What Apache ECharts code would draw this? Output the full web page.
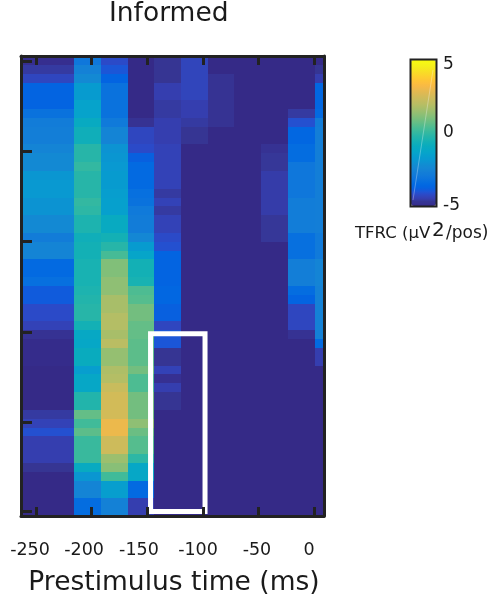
<!DOCTYPE html>
<html><head><meta charset="utf-8">
<style>html,body{margin:0;padding:0;background:#fff}#c{width:492px;height:599px}</style>
<script src="https://cdn.jsdelivr.net/npm/echarts@6/dist/echarts.min.js"></script>
</head><body><div id="c"></div>
<script>
const titleText = 'Informed';
const xName = 'Prestimulus time (ms)';
const binStarts = [-263.5,-239.5,-215.5,-191.5,-167.5,-143.5,-119.5,-95.5,-71.5,-47.5,-23.5,0.5];
const binWidth = 24;
const xTicks = [-250,-200,-150,-100,-50,0];
const xLabelSpots = [-255.4,-206.8,-157.4,-104.3,-51.3,-4.5];
const xLabels = ['-250','-200','-150','-100','-50','0'];
const yTicks = [0.565,10.74,20.9,31.2,41.4,51.5];
const windowX = [-147,-98];
const windowRows = [31.4,51.5];
const col0 = [-4.9,-4.6,-4.3,-3.7,-3.7,-3.7,-3.2,-2.8,-2.7,-2.7,-2.5,-2.3,-2.3,-1.9,-1.8,-1.8,-2.0,-2.0,-2.3,-2.3,-2.8,-2.5,-2.5,-3.5,-3.5,-3.3,-3.9,-3.9,-4.2,-4.2,-4.4,-4.8,-4.95,-4.95,-4.95,-5,-5,-5,-5,-5,-4.6,-4.4,-4.1,-4.5,-4.5,-4.5,-4.7,-5,-5,-5,-5,-5];
const col1 = [-4.9,-4.6,-4.3,-3.7,-3.7,-3.7,-3.2,-2.8,-2.7,-2.7,-2.5,-2.3,-2.3,-1.9,-1.8,-1.8,-2.0,-2.0,-2.3,-2.3,-2.8,-2.5,-2.5,-3.5,-3.5,-3.3,-3.9,-3.9,-4.2,-4.2,-4.4,-4.8,-4.95,-4.95,-4.95,-5,-5,-5,-5,-5,-4.6,-4.4,-4.1,-4.5,-4.5,-4.5,-4.7,-5,-5,-5,-5,-5];
const col2 = [-3.0,-2.6,-2.3,-1.7,-1.7,-1.4,-1.4,-1.0,-0.7,-0.7,-0.2,-0.2,0,-0.2,-0.2,-0.2,0,-0.1,-0.4,-0.4,-0.7,-0.6,-0.6,-0.5,-0.5,-0.5,-0.4,-0.3,-0.2,-0.2,-0.6,-1.1,-1.2,-0.9,-0.9,-1.6,-1.2,-1.2,-0.3,-0.3,0.7,0.2,0.6,0.1,0.1,0.1,-1.0,-1.9,-2.5,-2.5,-3.4,-3.4];
const col3 = [-4.2,-4,-3.7,-3.2,-3.2,-3.2,-3.2,-2.9,-2.5,-2.5,-2,-1.9,-1.8,-1.7,-1.7,-1.6,-1.5,-1.5,-1.0,-1.0,-0.6,-0.2,0.3,1.1,1.1,1.3,1.3,1.7,1.7,1.9,1.9,1.7,2.0,1.4,1.4,1.8,1.9,2.3,2.5,2.5,2.5,3.0,3.0,2.4,2.4,1.5,1.2,0.2,-1.6,-1.6,-2.6,-2.6];
const col4 = [-5,-5,-5,-5,-5,-5,-5,-4.8,-4.3,-4.3,-4.2,-3.8,-3.5,-3.5,-3.5,-3.3,-3.2,-2.9,-2.8,-2.8,-2.4,-1.7,-1.3,-0.6,-0.6,-0.5,0.4,0.5,0.9,0.9,0.7,0.7,0.6,0.6,0.6,0.9,0.4,0.4,0.9,0.9,0.9,1.3,0.8,0.5,0.5,-0.1,-1.2,-1.2,-3.5,-3.5,-4.5,-4.5];
const col5 = [-4.7,-4.7,-4.7,-4.5,-4.5,-4.6,-4.6,-4.5,-4.5,-4.5,-4.4,-4.4,-4.4,-4.4,-4.4,-4.6,-4.4,-4.6,-4.4,-4.4,-4.2,-4.1,-3.7,-3.7,-3.7,-3.7,-3.6,-3.6,-3.8,-3.8,-4.3,-4.0,-4.0,-4.7,-4.7,-4.4,-4.85,-4.5,-4.7,-4.7,-5,-5,-5,-5,-5,-5,-5,-5,-5,-5,-5,-5];
const col6 = [-4.35,-4.35,-4.35,-4.35,-4.35,-4.5,-4.5,-4.6,-4.7,-4.7,-5,-5,-5,-5,-5,-5,-5,-5,-5,-5,-5,-5,-5,-5,-5,-5,-5,-5,-5,-5,-5,-5,-5,-5,-5,-5,-5,-5,-5,-5,-5,-5,-5,-5,-5,-5,-5,-5,-5,-5,-5,-5];
const col7 = [-5,-5,-4.75,-4.75,-4.75,-4.75,-4.75,-4.75,-5,-5,-5,-5,-5,-5,-5,-5,-5,-5,-5,-5,-5,-5,-5,-5,-5,-5,-5,-5,-5,-5,-5,-5,-5,-5,-5,-5,-5,-5,-5,-5,-5,-5,-5,-5,-5,-5,-5,-5,-5,-5,-5,-5];
const col8 = [-5,-5,-5,-5,-5,-5,-5,-5,-5,-5,-5,-5,-5,-5,-5,-5,-5,-5,-5,-5,-5,-5,-5,-5,-5,-5,-5,-5,-5,-5,-5,-5,-5,-5,-5,-5,-5,-5,-5,-5,-5,-5,-5,-5,-5,-5,-5,-5,-5,-5,-5,-5];
const col9 = [-5,-5,-5,-5,-5,-5,-5,-5,-5,-5,-4.8,-4.65,-4.65,-4.55,-4.55,-4.55,-4.55,-4.55,-4.65,-4.65,-4.65,-5,-5,-5,-5,-5,-5,-5,-5,-5,-5,-5,-5,-5,-5,-5,-5,-5,-5,-5,-5,-5,-5,-5,-5,-5,-5,-5,-5,-5,-5,-5];
const col10 = [-5,-5,-5,-5,-5,-5,-4.6,-4.1,-3.6,-3.6,-3.4,-3.4,-3.0,-3.0,-3.0,-3.0,-2.75,-2.75,-2.75,-2.75,-3.3,-3.3,-3.3,-2.7,-2.7,-2.7,-3.4,-3.7,-4.3,-4.3,-4.3,-4.8,-5,-5,-5,-5,-5,-5,-5,-5,-5,-5,-5,-5,-5,-5,-5,-5,-5,-5,-5,-5];
const col11 = [-5,-4.7,-4.5,-3.6,-3.6,-3.6,-3.5,-2.8,-2.7,-2.7,-2.7,-2.7,-2.7,-2.7,-2.7,-2.7,-2.7,-2.7,-2.7,-2.7,-2.9,-2.9,-2.9,-2.5,-2.5,-2.5,-2.6,-2.6,-2.6,-2.6,-2.6,-2.6,-3.5,-4.5,-4.5,-5,-5,-5,-5,-5,-5,-5,-5,-5,-5,-5,-5,-5,-5,-5,-5,-5];
const columns = [col0,col1,col2,col3,col4,col5,col6,col7,col8,col9,col10,col11];
const parula = ['#352a87','#363093','#363693','#353dad','#3244ba','#2b4ac7','#2053d4','#0f5cdd','#0363e1','#0268e1','#046de0','#0871de','#0d75dc','#1079da','#127cd8','#1480d6','#1485d4','#1389d3','#108ed2','#0c93d2','#0998d1','#079ccf','#06a0cd','#06a4ca','#06a7c6','#07a9c2','#0aacbd','#0faeb9','#15b1b4','#1db3af','#25b5a9','#2eb7a4','#38b99e','#42bb98','#4dbc92','#59bd8c','#65be86','#71be80','#7cbf7b','#87bf77','#92bf73','#9cbf6e','#a6be6a','#afbe67','#b9bd63','#c0bc60','#c8bc5d','#d0bb59','#d9ba56','#e1b952','#e9b94e','#f1b94a','#f8ba44','#fcbe3e','#fec337','#fdca32','#fcd12d','#fad829','#f8df25','#f6e620','#f5ed1c','#f5f318','#f6f715','#f9fb0e'];

const data = [];
columns.forEach((c, i) => c.forEach((v, r) => data.push([binStarts[i], r, v])));

const chart = echarts.init(document.getElementById('c'), null, {renderer:'canvas'});
const font = 'DejaVu Sans';
const dark = '#222222';
const axisMin = -263.5, axisMax = 9;
const inTick = {show:true, inside:true, length:9, lineStyle:{color:dark, width:3}};
chart.setOption({
  animation:false,
  backgroundColor:'#fff',
  title:{text:titleText,left:104,top:-4,textStyle:{fontFamily:font,fontWeight:'normal',fontSize:26.5,color:'#1a1a1a'}},
  grid:{left:21,top:56,width:303,height:460,containLabel:false,outerBoundsMode:'none'},
  xAxis:[
    {type:'value',min:axisMin,max:axisMax,position:'bottom',z:5,
     splitLine:{show:false},
     axisLine:{show:true,onZero:false,lineStyle:{color:dark,width:3}},
     axisTick:{...inTick,customValues:xTicks},
     axisLabel:{show:true,customValues:xLabelSpots,margin:25,fontFamily:font,fontSize:17.5,color:'#1a1a1a',hideOverlap:false,
       showMinLabel:true,showMaxLabel:true,
       formatter:(v)=>xLabels[xLabelSpots.indexOf(v)]},
     name:xName,nameLocation:'middle',nameGap:54,
     nameTextStyle:{fontFamily:font,fontSize:26.5,color:'#1a1a1a',padding:[0,0,0,3]}},
    {type:'value',min:axisMin,max:axisMax,position:'top',z:5,
     splitLine:{show:false},
     axisLine:{show:true,onZero:false,lineStyle:{color:dark,width:3}},
     axisTick:{...inTick,customValues:xTicks},
     axisLabel:{show:false}}
  ],
  yAxis:[
    {type:'value',min:0,max:52,inverse:true,position:'left',z:5,
     splitLine:{show:false},
     axisLine:{show:true,onZero:false,lineStyle:{color:dark,width:3}},
     axisTick:{...inTick,length:11,customValues:yTicks},
     axisLabel:{show:false}},
    {type:'value',min:0,max:52,inverse:true,position:'right',z:5,
     splitLine:{show:false},
     axisLine:{show:true,onZero:false,lineStyle:{color:dark,width:3}},
     axisTick:{show:false},axisLabel:{show:false}}
  ],
  visualMap:{type:'continuous',seriesIndex:0,dimension:2,min:-5,max:5,left:411,top:60,itemWidth:25,itemHeight:146,
    calculable:false,text:null,showLabel:false,padding:0,inRange:{color:parula},textStyle:{color:'transparent',fontSize:1}},
  series:[
    {type:'custom',name:'TFRC',xAxisIndex:0,yAxisIndex:0,clip:true,z:2,
     encode:{x:0,y:1},data,
     renderItem:(p,api)=>{
       const x=api.value(0), r=api.value(1);
       const a=api.coord([x,r]), b=api.coord([x+binWidth,r+1]);
       const x0=Math.round(a[0]), y0=Math.round(a[1]), x1=Math.round(b[0]), y1=Math.round(b[1]);
       return {type:'rect',shape:{x:x0,y:y0,width:x1-x0,height:y1-y0},style:{fill:api.visual('color')}};
     }},
    {type:'custom',name:'window',xAxisIndex:0,yAxisIndex:0,clip:false,z:3,silent:true,
     encode:{x:0,y:1},data:[[windowX[0],windowRows[0],windowX[1],windowRows[1]]],
     renderItem:(p,api)=>{
       const a=api.coord([api.value(0),api.value(1)]), b=api.coord([api.value(2),api.value(3)]);
       return {type:'rect',shape:{x:a[0],y:a[1],width:b[0]-a[0],height:b[1]-a[1]},style:{fill:'none',stroke:'#fff',lineWidth:5}};
     }}
  ],
  graphic:[
    {type:'rect',z:100,silent:true,shape:{x:410.5,y:59.5,width:26,height:147},style:{fill:'none',stroke:dark,lineWidth:2}},
    {type:'line',z:100,silent:true,shape:{x1:413,y1:200,x2:433,y2:70},style:{stroke:'rgba(255,255,255,0.3)',lineWidth:1}},
    {type:'text',z:100,x:443,y:65,style:{text:'5',fontFamily:font,fontSize:17,fill:'#1a1a1a',verticalAlign:'middle'}},
    {type:'text',z:100,x:443,y:133,style:{text:'0',fontFamily:font,fontSize:17,fill:'#1a1a1a',verticalAlign:'middle'}},
    {type:'text',z:100,x:443,y:206,style:{text:'-5',fontFamily:font,fontSize:17,fill:'#1a1a1a',verticalAlign:'middle'}},
    {type:'text',z:100,x:355,y:234,style:{text:'TFRC (µV',fontFamily:font,fontSize:16.5,fill:'#1a1a1a',verticalAlign:'middle'}},
    {type:'text',z:100,x:432,y:231,style:{text:'2',fontFamily:font,fontSize:20,fill:'#1a1a1a',verticalAlign:'middle'}},
    {type:'text',z:100,x:446,y:234,style:{text:'/pos)',fontFamily:font,fontSize:17,fill:'#1a1a1a',verticalAlign:'middle'}}
  ]
});
</script></body></html>
